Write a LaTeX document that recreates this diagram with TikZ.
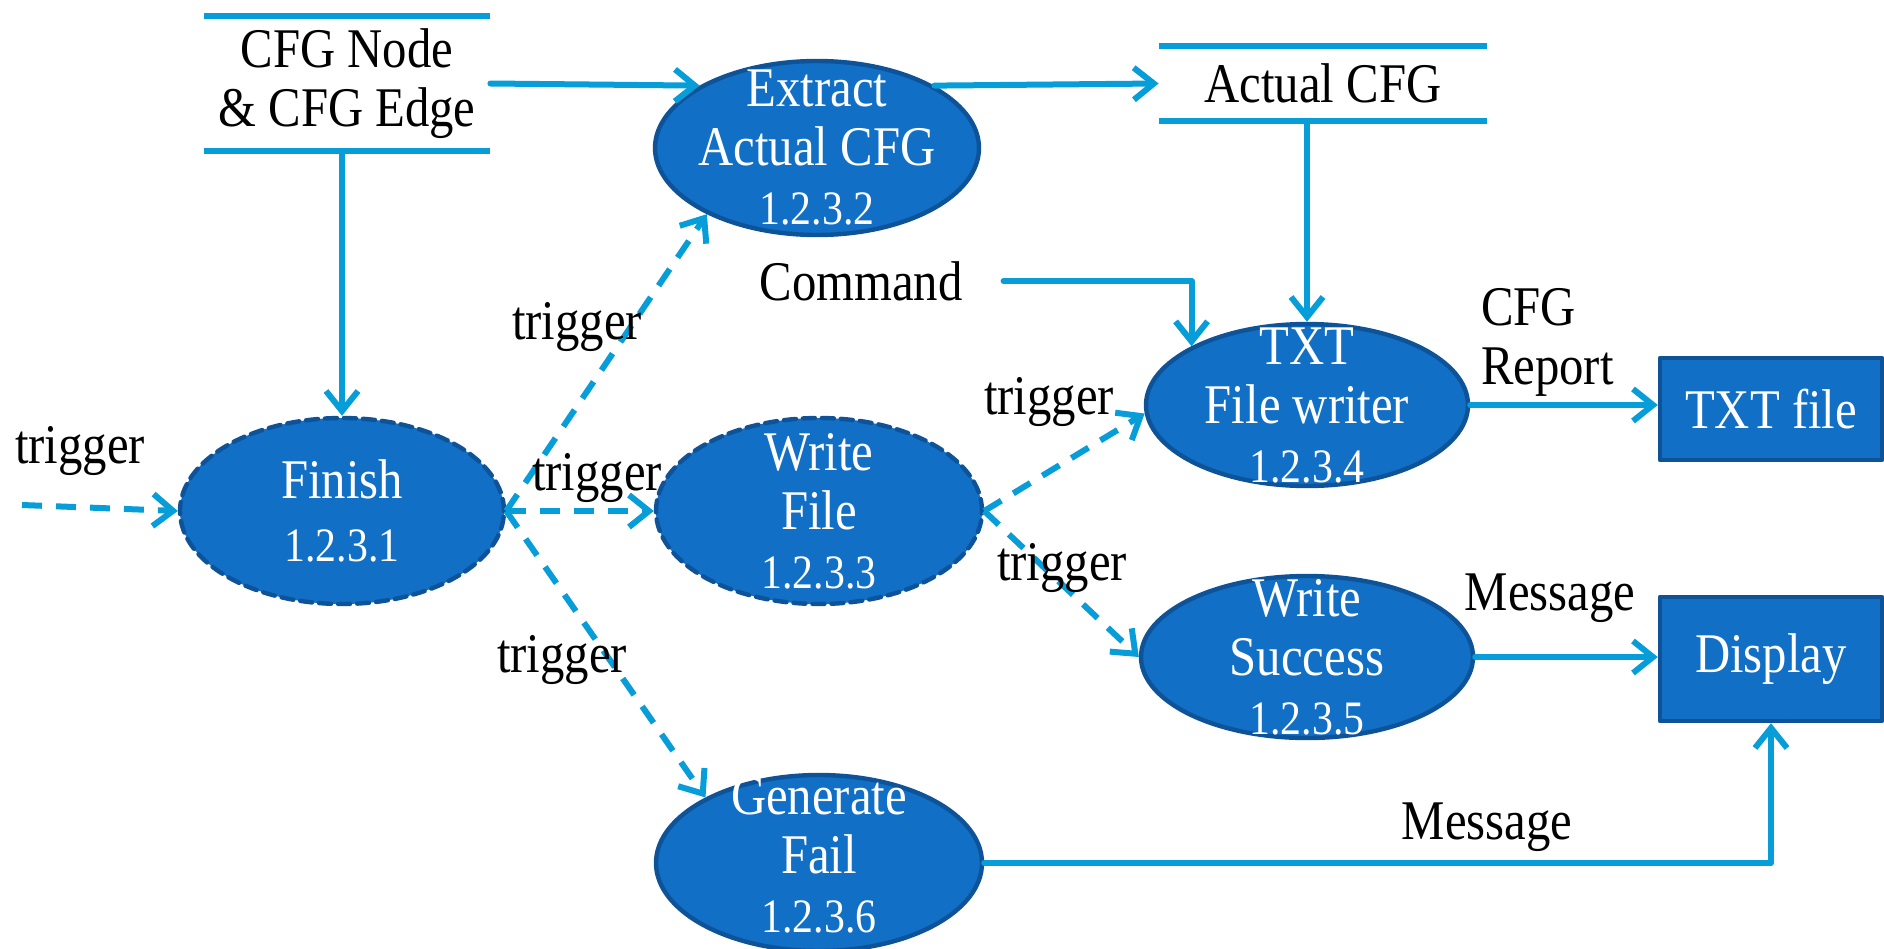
\documentclass[tikz,border=0pt]{standalone}
\usepackage{fontspec}
\setmainfont{Liberation Serif}[FakeStretch=0.87]
\usetikzlibrary{arrows.meta,shapes.geometric}
\definecolor{flowcyan}{RGB}{6,157,216}
\definecolor{procblue}{RGB}{17,111,198}
\definecolor{procedge}{RGB}{14,82,152}
\newcommand\procnum[1]{{\fontsize{24}{29.5}\selectfont #1}}

\begin{document}
\begin{tikzpicture}[x=0.5pt,y=-0.5pt,line cap=round,line join=round,
  >={Straight Barb[length=10pt,width=16pt]},
  every node/.style={font=\fontsize{28}{29.5}\selectfont},
  proc/.style={ellipse,draw=procedge,line width=2.2pt,fill=procblue,inner sep=0pt},
  proctext/.style={text=white,align=center},
  ext/.style={rectangle,draw=procedge,line width=2.2pt,fill=procblue,text=white,inner sep=0pt},
  flow/.style={->,draw=flowcyan,line width=3pt},
  trig/.style={flow,line cap=butt,dash pattern=on 10pt off 7pt},
  storeline/.style={draw=flowcyan,line width=3pt,line cap=butt}]
\useasboundingbox (0,0) rectangle (1884,948);
% data stores
\node[minimum width=143pt,minimum height=67.5pt,align=center,inner sep=0pt] (cfg) at (347,83.5) {CFG Node\\\& CFG Edge};
\draw[storeline] (cfg.north west) -- (cfg.north east) (cfg.south west) -- (cfg.south east);
\node[minimum width=164pt,minimum height=37.5pt,inner sep=0pt] (acfg) at (1323,83.5) {Actual CFG};
\draw[storeline] (acfg.north west) -- (acfg.north east) (acfg.south west) -- (acfg.south east);
% processes
\node[proc,minimum width=162pt,minimum height=87pt] (extract) at (817,148) {};
\node[proctext] at (extract) {Extract\\Actual CFG\\\procnum{1.2.3.2}};
\node[proc,dash pattern=on 6pt off 3.5pt,minimum width=162pt,minimum height=93pt] (finish) at (342,511) {};
\node[proctext] at (finish) {Finish\\[2pt]\procnum{1.2.3.1}};
\node[proc,dash pattern=on 6pt off 3.5pt,minimum width=163pt,minimum height=93pt] (wfile) at (819,511) {};
\node[proctext] at (wfile) {Write\\File\\\procnum{1.2.3.3}};
\node[proc,minimum width=163pt,minimum height=88pt] (genfail) at (819,863) {};
\node[proctext] at ([yshift=4pt]genfail.center) {Generate\\Fail\\\procnum{1.2.3.6}};
\node[proc,minimum width=161pt,minimum height=81pt] (txtw) at (1307,405) {};
\node[proctext] at (txtw) {TXT\\File writer\\\procnum{1.2.3.4}};
\node[proc,minimum width=166pt,minimum height=81pt] (wsucc) at (1307,657) {};
\node[proctext] at (wsucc) {Write\\Success\\\procnum{1.2.3.5}};
% external entities
\node[ext,minimum width=111pt,minimum height=51pt] (txtfile) at (1771,409) {TXT file};
\node[ext,minimum width=111pt,minimum height=62pt] (display) at (1771,659) {Display};
% solid flows
\node (cmd) at (861,281) {Command};
\coordinate (tin) at (22,505);
\draw[flow] (cfg.east) -- (extract.152);
\draw[flow] (extract.28) -- (acfg.west);
\draw[flow] (finish.north |- cfg.south) -- (finish.north);
\draw[flow] (txtw.north |- acfg.south) -- (txtw.north);
\draw[flow] ([xshift=17pt]cmd.east) -| (txtw.153);
\draw[flow] (txtw.east) -- (txtw.east -| txtfile.west);
\draw[flow] (wsucc.east) -- (wsucc.east -| display.west);
\draw[flow] (genfail.east) -| (display.south);
% trigger flows
\draw[trig] (tin) -- (finish.west);
\draw[trig] (finish.east) -- (extract.211);
\draw[trig] (finish.east) -- (wfile.west);
\draw[trig] (finish.east) -- (genfail.150);
\draw[trig] (wfile.east) -- (txtw.183);
\draw[trig] (wfile.east) -- (wsucc.west);
% labels
\node (trig1) at (80,451) {trigger};
\node (trig2) at (577,327) {trigger};
\node (trig3) at (597,478) {trigger};
\node (trig4) at (562,660) {trigger};
\node (trig5) at (1049,402) {trigger};
\node (trig6) at (1062,568) {trigger};
\node[align=left,anchor=west] (rep) at (1474,342) {CFG\\Report};
\node (msg1) at (1550,598) {Message};
\node (msg2) at (1487,827) {Message};
\end{tikzpicture}
\end{document}
